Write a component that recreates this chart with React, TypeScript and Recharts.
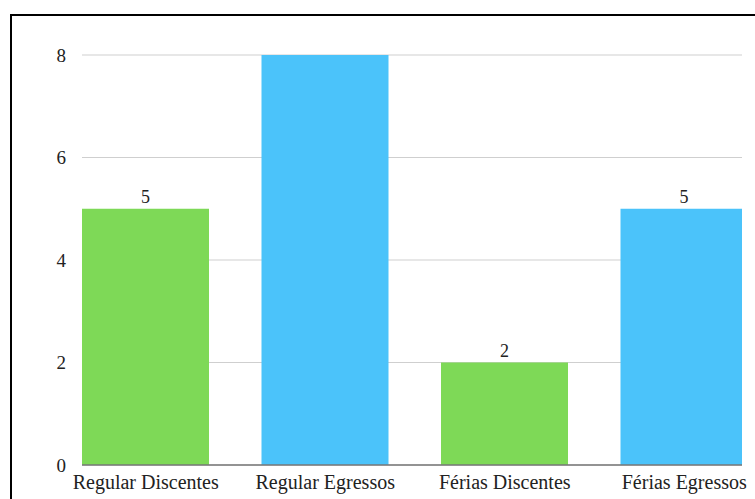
import React from "react";
import {
  BarChart,
  Bar,
  XAxis,
  YAxis,
  CartesianGrid,
  Cell,
  LabelList,
} from "recharts";

const categories = [
  "Regular Discentes",
  "Regular Egressos",
  "Férias Discentes",
  "Férias Egressos",
];
const values = [5, 8, 2, 5];
// the tallest bar carries no label in the source chart
const shownLabels = ["5", null, "2", "5"];
const barColors = ["#7ed957", "#4bc3fa", "#7ed957", "#4bc3fa"];
const yTicks = [0, 2, 4, 6, 8];

const data = categories.map((name, i) => ({
  name,
  value: values[i],
  label: shownLabels[i],
}));

const W = 755;
const H = 499;
const margin = { top: 55, right: 13, left: 22, bottom: 0 };
const plotRight = W - margin.right;
const serif = "Liberation Serif";

// the source chart cuts the last bar at the plot edge
const ClippedBar = (props: any) => {
  const { x, y, width, height, fill } = props;
  const w = Math.max(0, Math.min(width, plotRight - x));
  return <rect x={x} y={y} width={w} height={height} fill={fill} />;
};

const XTick = (props: any) => {
  const { x, y, payload } = props;
  return (
    <text
      x={x}
      y={y + 8}
      dy="0.71em"
      textAnchor="middle"
      fill="#222"
      fontSize={20}
      fontFamily={serif}
    >
      {payload.value}
    </text>
  );
};

const YTick = (props: any) => {
  const { x, y, payload } = props;
  return (
    <text
      x={x - 14}
      y={y}
      dy="0.355em"
      textAnchor="end"
      fill="#222"
      fontSize={19}
      fontFamily={serif}
    >
      {payload.value}
    </text>
  );
};

export default function App() {
  return (
    <div
      style={{
        position: "fixed",
        left: 0,
        top: 0,
        width: W,
        height: H,
        overflow: "hidden",
        background: "#fff",
      }}
    >
      <div
        style={{
          position: "absolute",
          left: 10,
          top: 14,
          width: 800,
          height: 600,
          border: "2px solid #000",
        }}
      />
      <div style={{ position: "absolute", left: 0, top: 0, fontFamily: serif }}>
        <BarChart width={W} height={H} data={data} margin={margin}>
          <CartesianGrid vertical={false} stroke="#cfcfcf" />
          <XAxis
            dataKey="name"
            height={34}
            padding={{ left: -26, right: -32 }}
            axisLine={{ stroke: "#777", strokeWidth: 1.5 }}
            tickLine={false}
            tickSize={0}
            tick={<XTick />}
            interval={0}
          />
          <YAxis
            width={60}
            domain={[0, 8]}
            ticks={yTicks}
            axisLine={false}
            tickLine={false}
            tickSize={0}
            tick={<YTick />}
          />
          <Bar
            dataKey="value"
            barSize={127}
            shape={ClippedBar}
            isAnimationActive={false}
          >
            {data.map((d, i) => (
              <Cell key={d.name} fill={barColors[i]} />
            ))}
            <LabelList
              dataKey="label"
              position="top"
              offset={6}
              fill="#222"
              fontSize={18}
              fontFamily={serif}
            />
          </Bar>
        </BarChart>
      </div>
    </div>
  );
}
